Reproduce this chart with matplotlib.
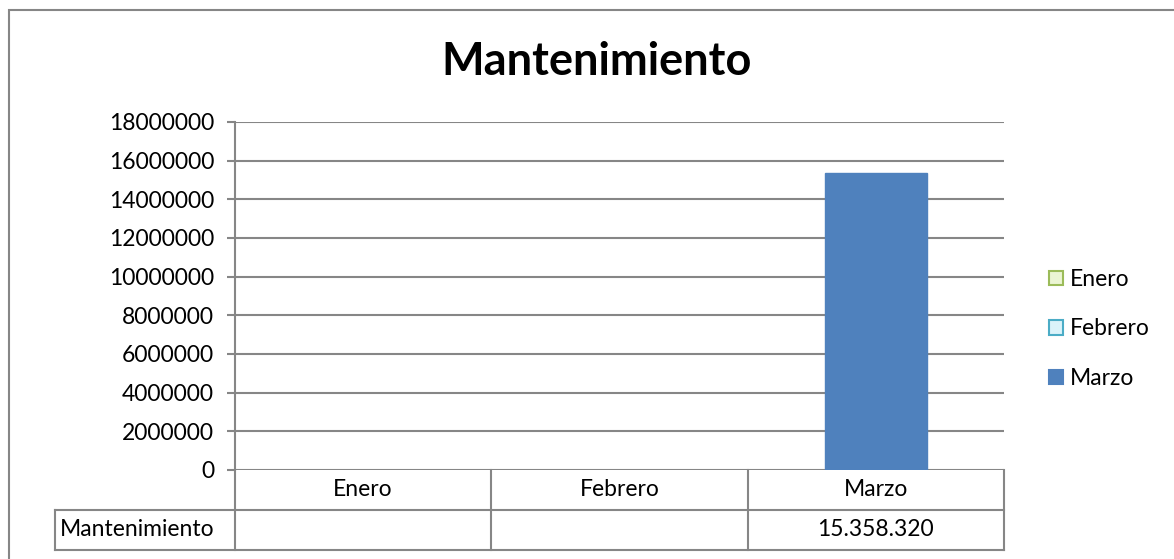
import numpy as np
import matplotlib
matplotlib.use('Agg')
import matplotlib.pyplot as plt
from matplotlib.patches import Patch, Rectangle
from matplotlib.lines import Line2D

# data
title = "Mantenimiento"
series_name = "Mantenimiento"
categories = ["Enero", "Febrero", "Marzo"]
values = [np.nan, np.nan, 15358320]
face_colors = ["#EBF5D3", "#DBF3FA", "#4F81BD"]
edge_colors = ["#9BBB59", "#4BACC6", "#4F81BD"]
y_ticks = [0, 2000000, 4000000, 6000000, 8000000, 10000000, 12000000, 14000000, 16000000, 18000000]

plt.rcParams['font.family'] = ['Lato', 'DejaVu Sans']
grid_col = "#868686"
fs = 16.5
W, H = 1174, 559

fig = plt.figure(figsize=(W / 100, H / 100), dpi=100)
ax = fig.add_axes([235 / W, 1 - 470 / H, (1004 - 235) / W, (470 - 122) / H])

x = np.arange(len(categories))
ax.bar(x, values, width=0.4, color=face_colors, edgecolor=edge_colors, zorder=3)

ax.set_xlim(-0.5, len(categories) - 0.5)
ax.set_ylim(0, 18000000)
ax.set_yticks(y_ticks)
ax.set_yticklabels([str(v) for v in y_ticks], fontsize=fs)
ax.tick_params(axis='y', length=6, width=1.5, color=grid_col, pad=9)
ax.set_xticks([])
ax.yaxis.grid(True, color=grid_col, linewidth=1.5, zorder=0)
for s in ['top', 'right', 'bottom']:
    ax.spines[s].set_visible(False)
ax.spines['left'].set_color(grid_col)
ax.spines['left'].set_linewidth(1.5)

# data table under the axes (drawn in axes coordinates)
tr = ax.transAxes
row_h = 40 / (470 - 122)
n = len(categories)
lbl_left = (55 - 235) / (1004 - 235)
kw = dict(color=grid_col, linewidth=1.5, transform=tr, clip_on=False)
ax.add_line(Line2D([0, 1], [-row_h, -row_h], **kw))
ax.add_line(Line2D([lbl_left, 1], [-2 * row_h, -2 * row_h], **kw))
ax.add_line(Line2D([lbl_left, 0], [-row_h, -row_h], **kw))
ax.add_line(Line2D([lbl_left, lbl_left], [-row_h, -2 * row_h], **kw))
ax.add_line(Line2D([0, 0], [0, -2 * row_h], **kw))
for i in range(n):
    xr = (i + 1) / n
    ax.add_line(Line2D([xr, xr], [0, -2 * row_h], **kw))
for i, (c, v) in enumerate(zip(categories, values)):
    xc = (i + 0.5) / n
    ax.text(xc, -0.5 * row_h, c, transform=tr, ha='center', va='center', fontsize=fs)
    if not np.isnan(v):
        txt = f"{int(v):,}".replace(",", ".")
        ax.text(xc, -1.5 * row_h, txt, transform=tr, ha='center', va='center', fontsize=fs)
ax.text(lbl_left + 0.006, -1.5 * row_h, series_name, transform=tr, ha='left', va='center', fontsize=fs)

# title
fig.text(597 / W, 1 - 62 / H, title, ha='center', va='center', fontsize=32.5, fontweight='bold')

# legend
handles = [Patch(facecolor=f, edgecolor=e, linewidth=1.5) for f, e in zip(face_colors, edge_colors)]
fig.legend(handles, categories, loc='center left', bbox_to_anchor=(1040 / W, 1 - 329 / H),
           frameon=False, fontsize=fs, handlelength=0.6, handleheight=0.6,
           handletextpad=0.3, labelspacing=1.25, borderaxespad=0)

# chart frame
fig.add_artist(Rectangle((9 / W, -0.05), 1.1, 1 - 10 / H + 0.05, transform=fig.transFigure,
                         fill=False, edgecolor=grid_col, linewidth=1.5))

fig.savefig("out.png", dpi=100)
